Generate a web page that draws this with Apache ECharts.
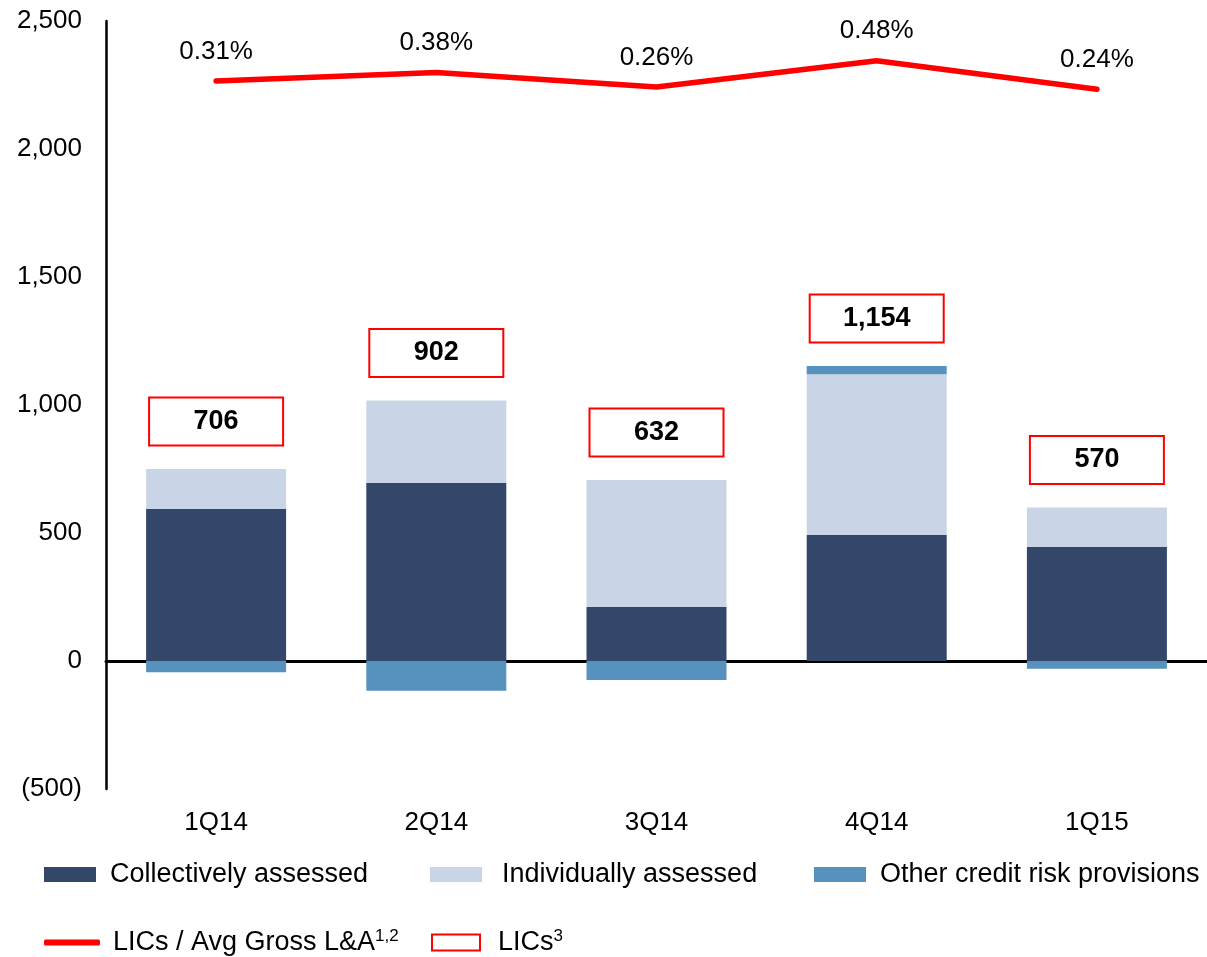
<!DOCTYPE html>
<html>
<head>
<meta charset="utf-8">
<script src="https://cdn.jsdelivr.net/npm/echarts@6/dist/echarts.min.js"></script>
<style>
  html, body { margin: 0; padding: 0; background: #fff; }
  #chart { width: 1207px; height: 957px; }
</style>
</head>
<body>
<div id="chart"></div>
<script>
let quarters = ['1Q14', '2Q14', '3Q14', '4Q14', '1Q15'];
let collective = [594, 695, 211, 492, 446];
let individual = [156, 323, 496, 628, 154];
let otherCredit = [-44, -116, -74, 32, -30];
let licTotals = [706, 902, 632, 1154, 570];
let licRatio = [0.31, 0.38, 0.26, 0.48, 0.24];
let yTicks = [-500, 0, 500, 1000, 1500, 2000, 2500];

const FONT = 'Liberation Sans, Arial, sans-serif';
const DARK = '#33476b';
const LIGHT = '#c9d4e6';
const MID = '#5692bd';
const RED = '#ff0000';

// top of the positive part of each stack, the LICs box sits above it
let stackTop = quarters.map(function (q, i) {
    return collective[i] + individual[i] + Math.max(otherCredit[i], 0);
});

function fmt(v) {
    return v.toLocaleString('en-US');
}

let myChart = echarts.init(document.getElementById('chart'));

let supRich = { s: { fontFamily: FONT, fontSize: 17, color: '#000', verticalAlign: 'top', padding: [0, 0, 12, 0] } };

function legendAt(name, left, top, extra) {
    return Object.assign({
        data: [name],
        left: left,
        top: top,
        padding: 0,
        icon: 'rect',
        itemWidth: 52,
        itemHeight: 15,
        textStyle: { fontFamily: FONT, fontSize: 27, color: '#000', padding: [0, 0, 0, 9] },
        selectedMode: false
    }, extra || {});
}

let option = {
    animation: false,
    backgroundColor: '#fff',
    grid: { left: 106, right: 0, top: 21, bottom: 168 },
    legend: [
        legendAt('Collectively assessed', 44, 861),
        legendAt('Individually assessed', 430, 861, {
            textStyle: { fontFamily: FONT, fontSize: 27, color: '#000', padding: [0, 0, 0, 15] }
        }),
        legendAt('Other credit risk provisions', 814, 861),
        legendAt('LICs / Avg Gross L&A', 44, 928, {
            itemWidth: 56, itemHeight: 6, icon: 'roundRect',
            formatter: function (n) { return n + '{s|1,2}'; },
            textStyle: { fontFamily: FONT, fontSize: 27, color: '#000', padding: [0, 0, 0, 8], rich: supRich }
        }),
        legendAt('LICs', 431, 928, {
            itemWidth: 48, itemHeight: 16,
            itemStyle: { color: '#fff', borderColor: RED, borderWidth: 2, opacity: 1 },
            formatter: function (n) { return n + '{s|3}'; },
            textStyle: { fontFamily: FONT, fontSize: 27, color: '#000', padding: [0, 0, 0, 13], rich: supRich }
        })
    ],
    xAxis: [
        {
            type: 'category',
            data: quarters,
            axisLine: { onZero: true, lineStyle: { color: '#000', width: 3 } },
            axisTick: { show: false },
            axisLabel: { show: false }
        },
        {
            type: 'category',
            data: quarters,
            position: 'bottom',
            axisLine: { show: false },
            axisTick: { show: false },
            axisLabel: { fontFamily: FONT, fontSize: 26, color: '#000', margin: 21 }
        }
    ],
    yAxis: [
        {
            type: 'value',
            min: yTicks[0],
            max: yTicks[yTicks.length - 1],
            interval: 500,
            splitLine: { show: false },
            axisTick: { show: false },
            axisLine: { show: true, lineStyle: { color: '#000', width: 2.5 } },
            axisLabel: {
                fontFamily: FONT, fontSize: 26, color: '#000', margin: 24,
                formatter: function (v) { return v < 0 ? '(' + fmt(-v) + ')' : fmt(v); }
            }
        },
        {
            type: 'value',
            min: -5.616,
            max: 0.812,
            show: false
        }
    ],
    series: [
        {
            name: 'Collectively assessed',
            type: 'bar',
            stack: 'lic',
            barWidth: 140,
            data: collective,
            itemStyle: { color: DARK }
        },
        {
            name: 'Individually assessed',
            type: 'bar',
            stack: 'lic',
            barWidth: 140,
            data: individual,
            itemStyle: { color: LIGHT }
        },
        {
            name: 'Other credit risk provisions',
            type: 'bar',
            stack: 'lic',
            barWidth: 140,
            data: otherCredit,
            itemStyle: { color: MID }
        },
        {
            name: 'LICs / Avg Gross L&A',
            type: 'line',
            yAxisIndex: 1,
            data: licRatio,
            symbol: 'circle',
            symbolSize: 1,
            showSymbol: true,
            lineStyle: { color: RED, width: 5.5, cap: 'round' },
            itemStyle: { color: RED },
            label: {
                show: true,
                position: 'top',
                distance: 16,
                fontFamily: FONT,
                fontSize: 26,
                color: '#000',
                formatter: function (p) { return p.value.toFixed(2) + '%'; }
            },
            z: 5
        },
        {
            name: 'LICs',
            type: 'scatter',
            data: stackTop,
            symbol: 'rect',
            symbolSize: 1,
            itemStyle: { color: 'rgba(255,255,255,0)', borderColor: 'rgba(255,255,255,0)', borderWidth: 0, opacity: 1 },
            label: {
                show: true,
                position: 'top',
                offset: [0, -42],
                width: 132,
                height: 46,
                lineHeight: 46,
                align: 'center',
                verticalAlign: 'middle',
                backgroundColor: '#fff',
                borderColor: RED,
                borderWidth: 2,
                fontFamily: FONT,
                fontSize: 27,
                fontWeight: 'bold',
                color: '#000',
                formatter: function (p) { return fmt(licTotals[p.dataIndex]); }
            },
            z: 6
        }
    ]
};

myChart.setOption(option, true);
</script>
</body>
</html>
